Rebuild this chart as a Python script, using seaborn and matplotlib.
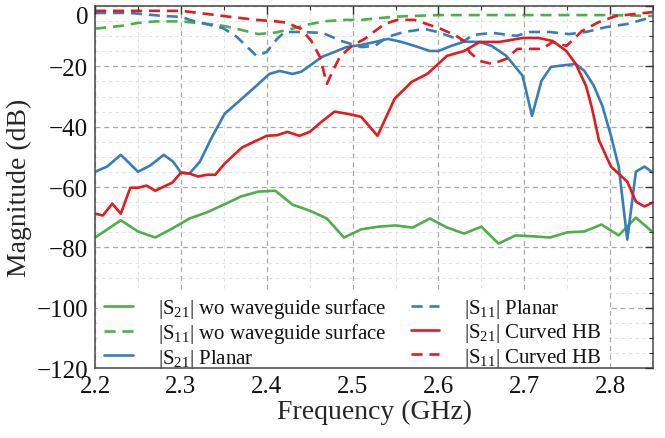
import numpy as np
import pandas as pd
import matplotlib
matplotlib.use("Agg")
import matplotlib.pyplot as plt
from matplotlib.lines import Line2D
from matplotlib.ticker import MultipleLocator
import seaborn as sns

# |S21| without waveguide surface
f_s21_wo = [2.20, 2.23, 2.25, 2.27, 2.29, 2.31, 2.33, 2.35, 2.37, 2.39, 2.41,
            2.43, 2.45, 2.47, 2.49, 2.51, 2.53, 2.55, 2.57, 2.59, 2.61, 2.63,
            2.65, 2.67, 2.69, 2.71, 2.73, 2.75, 2.77, 2.79, 2.81, 2.83, 2.85]
s21_wo = [-76.7, -71.0, -74.7, -76.7, -73.7, -70.4, -68.4, -65.8, -63.1, -61.5, -61.2,
          -65.8, -67.8, -70.4, -76.7, -74.0, -73.1, -72.7, -73.4, -70.4, -73.4, -75.4,
          -73.1, -78.7, -76.0, -76.3, -76.7, -75.0, -74.7, -72.4, -76.0, -70.1, -75.0]

# |S11| without waveguide surface
f_s11_wo = [2.20, 2.23, 2.25, 2.27, 2.30, 2.33, 2.35, 2.37, 2.39, 2.41, 2.43,
            2.45, 2.47, 2.49, 2.51, 2.55, 2.60, 2.65, 2.70, 2.75, 2.80, 2.85]
s11_wo = [-7.5, -6.6, -5.6, -5.1, -5.1, -5.9, -6.6, -7.9, -9.3, -8.8, -7.5,
          -6.0, -5.0, -4.6, -4.6, -3.5, -3.0, -3.0, -3.0, -3.0, -3.0, -3.3]

# |S21| planar
f_s21_pl = [2.200, 2.214, 2.230, 2.250, 2.264, 2.280, 2.291, 2.300, 2.310, 2.322,
            2.336, 2.351, 2.371, 2.388, 2.403, 2.415, 2.430, 2.440, 2.448, 2.464,
            2.479, 2.493, 2.510, 2.526, 2.541, 2.557, 2.572, 2.590, 2.600, 2.615,
            2.630, 2.648, 2.662, 2.679, 2.698, 2.709, 2.720, 2.731, 2.741, 2.760,
            2.770, 2.781, 2.791, 2.801, 2.810, 2.820, 2.830, 2.840, 2.850]
s21_pl = [-54.9, -53.2, -49.3, -54.9, -52.9, -49.3, -51.6, -55.2, -55.5, -51.6,
          -43.5, -35.7, -30.7, -26.4, -22.5, -21.5, -22.5, -21.8, -20.2, -16.9,
          -15.2, -13.6, -12.9, -11.9, -10.9, -11.9, -13.2, -14.9, -14.9, -13.2,
          -11.8, -11.9, -13.2, -16.5, -23.1, -36.4, -24.8, -20.2, -19.8, -19.2,
          -21.5, -26.4, -33.1, -43.0, -53.2, -77.4, -54.9, -53.2, -55.2]

# |S11| planar
f_s11_pl = [2.200, 2.241, 2.279, 2.301, 2.310, 2.330, 2.349, 2.365, 2.388, 2.400,
            2.412, 2.421, 2.440, 2.465, 2.487, 2.510, 2.526, 2.541, 2.560, 2.584,
            2.599, 2.615, 2.630, 2.640, 2.663, 2.691, 2.706, 2.729, 2.752, 2.772,
            2.795, 2.819, 2.850]
s11_pl = [-2.3, -2.3, -3.3, -3.6, -4.6, -6.0, -7.3, -10.2, -16.5, -15.2,
          -10.9, -8.6, -8.6, -8.9, -11.6, -13.6, -13.2, -10.2, -8.6, -7.6,
          -8.6, -10.2, -11.6, -9.6, -8.9, -9.9, -8.6, -8.6, -9.3, -8.6,
          -7.0, -6.0, -3.6]

# |S21| curved HB
f_s21_hb = [2.200, 2.209, 2.220, 2.230, 2.241, 2.250, 2.260, 2.270, 2.290, 2.300,
            2.310, 2.320, 2.330, 2.340, 2.351, 2.371, 2.388, 2.400, 2.412, 2.424,
            2.438, 2.450, 2.464, 2.479, 2.494, 2.510, 2.529, 2.549, 2.569, 2.587,
            2.610, 2.630, 2.648, 2.671, 2.698, 2.717, 2.733, 2.749, 2.760, 2.772,
            2.779, 2.787, 2.801, 2.820, 2.830, 2.840, 2.850]
s21_hb = [-68.8, -69.4, -65.5, -68.8, -60.2, -60.2, -59.5, -61.2, -58.5, -55.2,
          -55.5, -56.5, -55.9, -55.9, -52.2, -46.9, -44.6, -43.0, -42.8, -41.7,
          -43.0, -41.7, -38.3, -35.0, -35.7, -36.7, -43.0, -30.7, -25.1, -22.5,
          -16.5, -14.9, -11.9, -11.9, -10.6, -10.6, -11.6, -14.9, -19.2, -26.5,
          -34.0, -44.5, -53.2, -58.2, -64.8, -66.4, -65.1]

# |S11| curved HB
f_s11_hb = [2.200, 2.272, 2.301, 2.349, 2.388, 2.412, 2.424, 2.440, 2.452, 2.462,
            2.470, 2.477, 2.485, 2.499, 2.514, 2.526, 2.537, 2.552, 2.572, 2.587,
            2.603, 2.619, 2.630, 2.636, 2.648, 2.663, 2.679, 2.692, 2.709, 2.721,
            2.733, 2.749, 2.758, 2.767, 2.787, 2.807, 2.830, 2.850]
s11_hb = [-1.6, -1.6, -1.6, -3.3, -4.6, -5.1, -5.6, -7.6, -11.6, -16.9,
          -25.8, -21.5, -16.9, -13.2, -10.9, -8.3, -6.0, -4.6, -4.6, -6.0,
          -7.6, -9.6, -11.6, -15.2, -18.2, -19.2, -17.5, -14.2, -14.2, -14.2,
          -11.9, -13.2, -10.9, -8.3, -5.3, -3.3, -2.6, -2.0]

labels = [
    "|S$_{21}$| wo waveguide surface",
    "|S$_{11}$| wo waveguide surface",
    "|S$_{21}$| Planar",
    "|S$_{11}$| Planar",
    "|S$_{21}$| Curved HB",
    "|S$_{11}$| Curved HB",
]

x_major = [2.2, 2.3, 2.4, 2.5, 2.6, 2.7, 2.8]
y_major = [-120, -100, -80, -60, -40, -20, 0]

sns.set_theme(style="white")
plt.rcParams["font.family"] = ["Liberation Serif", "DejaVu Serif"]
plt.rcParams["mathtext.fontset"] = "custom"
plt.rcParams["mathtext.rm"] = "Liberation Serif"
plt.rcParams["mathtext.it"] = "Liberation Serif:italic"
plt.rcParams["mathtext.bf"] = "Liberation Serif:bold"
plt.rcParams["text.color"] = "#111111"

set1 = sns.color_palette("Set1")
red, blue, green = set1[0], set1[1], set1[2]

fig = plt.figure(figsize=(6.65, 4.39), dpi=100)
ax = fig.add_axes([0.143, 0.159, 0.839, 0.825])

lw = 1.9
dash = (4.2, 2.6)
series = [
    (f_s11_wo, s11_wo, green, True),
    (f_s21_wo, s21_wo, green, False),
    (f_s11_pl, s11_pl, blue, True),
    (f_s21_pl, s21_pl, blue, False),
    (f_s11_hb, s11_hb, red, True),
    (f_s21_hb, s21_hb, red, False),
]
for fx, vy, col, dashed in series:
    df = pd.DataFrame({"f": fx, "mag": vy})
    line_kw = dict(dashes=dash) if dashed else {}
    sns.lineplot(data=df, x="f", y="mag", ax=ax, color=col, linewidth=lw,
                 sort=False, estimator=None, legend=False, **line_kw)

ax.set_xlim(2.2, 2.85)
ax.set_ylim(-120, 0)
ax.set_xticks(x_major)
ax.set_yticks(y_major)
ax.xaxis.set_minor_locator(MultipleLocator(0.05))
ax.yaxis.set_minor_locator(MultipleLocator(5))

# grid lines sit beneath the curves and the legend box, while the tick
# marks stay on top of everything
ax.set_axisbelow(False)
ax.grid(False)
major_kw = dict(color="#a8a8a8", linestyle=(0, (4, 3)), linewidth=0.9, zorder=0.4)
minor_kw = dict(color="#e2e2e2", linestyle=(0, (3, 3)), linewidth=0.8, zorder=0.3)
for xv in ax.xaxis.get_minorticklocs():
    ax.axvline(xv, **minor_kw)
for yv in ax.yaxis.get_minorticklocs():
    ax.axhline(yv, **minor_kw)
for xv in x_major:
    ax.axvline(xv, **major_kw)
for yv in y_major:
    ax.axhline(yv, **major_kw)

ax.tick_params(which="both", direction="in", top=True, right=True,
               colors="#333333", labelcolor="#111111")
ax.tick_params(which="major", length=6, width=1.0, labelsize=18, pad=5)
ax.tick_params(which="minor", length=3, width=0.8)
for sp in ax.spines.values():
    sp.set_color("#555555")
    sp.set_linewidth(1.2)

ax.set_xlabel("Frequency (GHz)", fontsize=20, labelpad=1)
ax.set_ylabel("Magnitude (dB)", fontsize=20, labelpad=3)

# keep the top tick label inside the figure
ax.yaxis.get_major_ticks()[-1].label1.set_verticalalignment("top")

handles = [
    Line2D([], [], color=green, lw=lw),
    Line2D([], [], color=green, lw=lw, dashes=dash),
    Line2D([], [], color=blue, lw=lw),
    Line2D([], [], color=blue, lw=lw, dashes=dash),
    Line2D([], [], color=red, lw=lw),
    Line2D([], [], color=red, lw=lw, dashes=dash),
]
leg = ax.legend(handles, labels, ncol=2, loc="lower left",
                bbox_to_anchor=(0.0, -0.03), fontsize=15, frameon=True,
                fancybox=False, facecolor="white", edgecolor="white",
                framealpha=1.0, handlelength=1.35, handletextpad=1.2,
                columnspacing=1.2, labelspacing=0.06, borderpad=0.3,
                borderaxespad=0.15)
leg.set_zorder(2.2)

fig.savefig("out.png", dpi=100)
